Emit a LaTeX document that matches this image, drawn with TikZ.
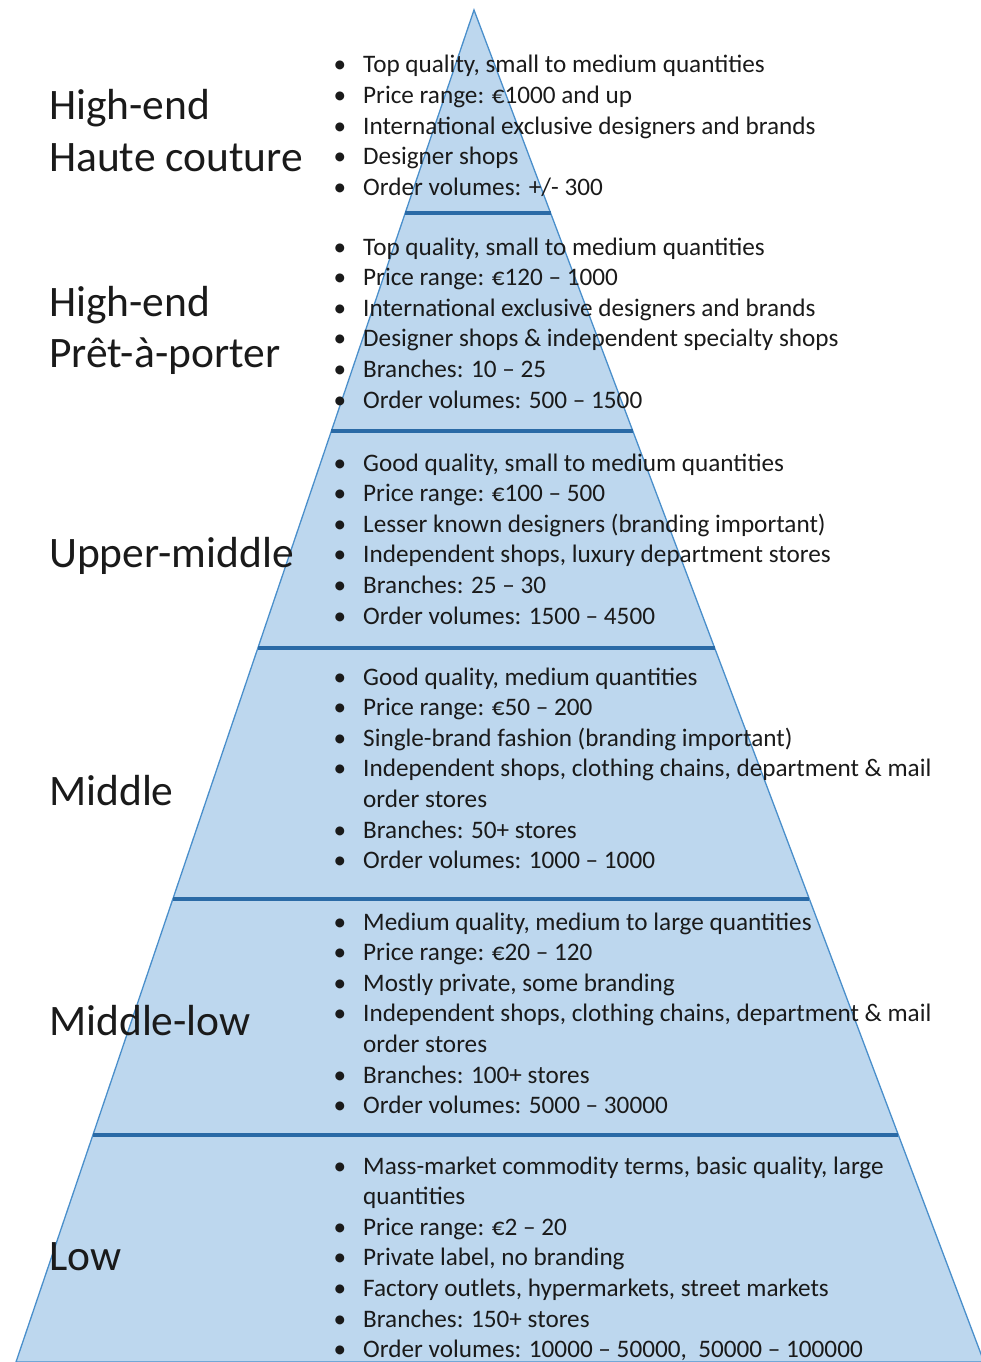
\documentclass[tikz,border=0pt]{standalone}
\usepackage{fontspec}
\setmainfont{Carlito}
\usetikzlibrary{calc}
\definecolor{pyrfill}{HTML}{BDD7EE}
\definecolor{pyredge}{HTML}{4A8FCB}
\definecolor{divline}{HTML}{2A6AA6}
\definecolor{txtcol}{HTML}{1A1A1A}
\tikzset{
  txt/.style={anchor=base west, inner sep=0pt, text=txtcol, font=\fontsize{25.2}{30}\selectfont},
  bul/.style={anchor=base, inner sep=0pt, text=txtcol, font=\fontsize{25.2}{30}\selectfont},
  lab/.style={anchor=base west, inner sep=0pt, text=txtcol, font=\fontsize{43.5}{51}\selectfont},
  pyr/.style={fill=pyrfill, draw=pyredge, line width=1.3pt, line join=miter},
  divider/.style={draw=divline, line width=3.4pt},
}
\newcommand\bitem[3]{\node[bul] (#1b) at (340,#2) {•}; \node[txt] (#1) at (363,#2) {#3};}
\newcommand\cont[3]{\node[txt] (#1) at (363,#2) {#3};}
\begin{document}
\begin{tikzpicture}[x=1pt,y=-1pt]
\useasboundingbox (0,0) rectangle (981,1362);
\coordinate (A) at (474,10);
\coordinate (L) at (16,1362);
\coordinate (R) at (984,1362);
\path[pyr] (A) -- (L) -- (R) -- cycle;
% dividers
\foreach \yy/\nm in {213/d1,431/d2,648/d3,899/d4,1135/d5}{
  \coordinate (\nm l) at ($(A)!{(\yy-10)/1352}!(L)$);
  \coordinate (\nm r) at ($(A)!{(\yy-10)/1352}!(R)$);
  \draw[divider] (\nm l) -- (\nm r);
}
% labels
\node[lab] (l1a) at (49,120) {High-end};
\node[lab] (l1b) at (49,171) {Haute couture};
\node[lab] (l2a) at (49,316) {High-end};
\node[lab] (l2b) at (49,367) {Prêt-à-porter};
\node[lab] (l3) at (49,567) {Upper-middle};
\node[lab] (l4) at (49,805) {Middle};
\node[lab] (l5) at (49,1035) {Middle-low};
\node[lab] (l6) at (49,1270) {Low};
% section 1
\bitem{s1a}{73}{Top quality, small to medium quantities}
\bitem{s1b}{103.6}{Price range: €1000 and up}
\bitem{s1c}{134.2}{International exclusive designers and brands}
\bitem{s1d}{164.8}{Designer shops}
\bitem{s1e}{195.4}{Order volumes: +/- 300}
% section 2
\bitem{s2a}{255}{Top quality, small to medium quantities}
\bitem{s2b}{285.6}{Price range: €120 – 1000}
\bitem{s2c}{316.2}{International exclusive designers and brands}
\bitem{s2d}{346.8}{Designer shops \& independent specialty shops}
\bitem{s2e}{377.4}{Branches: 10 – 25}
\bitem{s2f}{408}{Order volumes: 500 – 1500}
% section 3
\bitem{s3a}{471}{Good quality, small to medium quantities}
\bitem{s3b}{501.6}{Price range: €100 – 500}
\bitem{s3c}{532.2}{Lesser known designers (branding important)}
\bitem{s3d}{562.8}{Independent shops, luxury department stores}
\bitem{s3e}{593.4}{Branches: 25 – 30}
\bitem{s3f}{624}{Order volumes: 1500 – 4500}
% section 4
\bitem{s4a}{685}{Good quality, medium quantities}
\bitem{s4b}{715.6}{Price range: €50 – 200}
\bitem{s4c}{746.2}{Single-brand fashion (branding important)}
\bitem{s4d}{776.8}{Independent shops, clothing chains, department \& mail}
\cont{s4e}{807.4}{order stores}
\bitem{s4f}{838}{Branches: 50+ stores}
\bitem{s4g}{868.6}{Order volumes: 1000 – 1000}
% section 5
\bitem{s5a}{930}{Medium quality, medium to large quantities}
\bitem{s5b}{960.6}{Price range: €20 – 120}
\bitem{s5c}{991.2}{Mostly private, some branding}
\bitem{s5d}{1021.8}{Independent shops, clothing chains, department \& mail}
\cont{s5e}{1052.4}{order stores}
\bitem{s5f}{1083}{Branches: 100+ stores}
\bitem{s5g}{1113.6}{Order volumes: 5000 – 30000}
% section 6
\bitem{s6a}{1174}{Mass-market commodity terms, basic quality, large}
\cont{s6b}{1204.6}{quantities}
\bitem{s6c}{1235.2}{Price range: €2 – 20}
\bitem{s6d}{1265.8}{Private label, no branding}
\bitem{s6e}{1296.4}{Factory outlets, hypermarkets, street markets}
\bitem{s6f}{1327}{Branches: 150+ stores}
\bitem{s6g}{1357.6}{Order volumes: 10000 – 50000,\ \ 50000 – 100000}
\end{tikzpicture}
\end{document}
